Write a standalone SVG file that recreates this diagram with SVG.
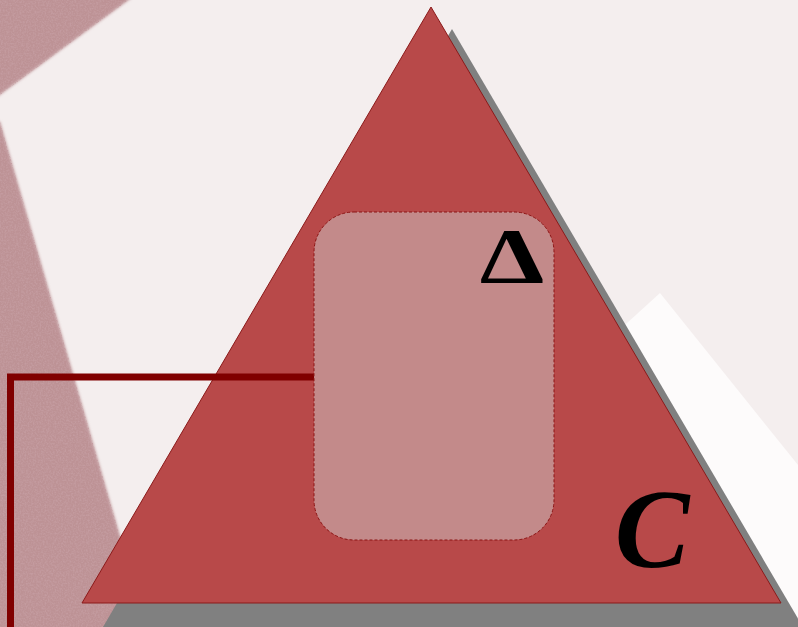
<svg xmlns="http://www.w3.org/2000/svg" width="798" height="627" viewBox="0 0 798 627">
  <defs>
    <filter id="noise" x="0" y="0" width="798" height="627" filterUnits="userSpaceOnUse">
      <feTurbulence type="fractalNoise" baseFrequency="0.6" numOctaves="2" seed="3" result="t"/>
      <feColorMatrix in="t" type="matrix" values="0 0 0 0 0.55  0 0 0 0 0.33  0 0 0 0 0.35  2.6 0 0 0 -1.0"/>
    </filter>
    <filter id="blur1" x="-10%" y="-10%" width="120%" height="120%"><feGaussianBlur stdDeviation="1.5"/></filter>
    <clipPath id="bandclip">
      <polygon points="-10,-10 142,-10 -10,102"/>
      <polygon points="-10,118 0,122 150,640 -10,640"/>
    </clipPath>
  </defs>
  <style>
    .band { fill: #bd9295; }
    .tri { fill: #b84949; stroke: #8b1a1a; stroke-width: 1; }
    .shadow { fill: #808080; }
    .inner { fill: #c38a8a; stroke: #8b1515; stroke-width: 1; stroke-dasharray: 3 2; }
    .conn { fill: none; stroke: #800000; stroke-width: 7; }
    .sym { font-family: "Liberation Serif", "DejaVu Serif", serif; fill: #000; font-weight: bold; }
  </style>
  <g id="background">
    <rect x="0" y="0" width="798" height="627" fill="#f4eeee"/>
    <g filter="url(#blur1)">
      <polygon class="band" points="-10,-10 142,-10 -10,102"/>
      <polygon class="band" points="-10,118 0,122 150,640 -10,640"/>
    </g>
    <g clip-path="url(#bandclip)">
      <rect x="0" y="0" width="798" height="627" filter="url(#noise)"/>
    </g>
    <polygon points="660,293 810,480 810,640 400,640 400,530" fill="#fdfbfb"/>
  </g>
  <g id="triangle">
    <polygon class="shadow" points="452,29 803,627 103,627"/>
    <polygon class="tri" points="431,7 781,603 82,603"/>
    <text class="sym" x="652" y="567" font-size="112" font-style="italic" text-anchor="middle">C</text>
  </g>
  <g id="connectors">
    <polyline class="conn" points="314,377 10.5,377 10.5,627"/>
  </g>
  <g id="box">
    <rect class="inner" x="314" y="212" width="240" height="328" rx="40" ry="40"/>
    <text class="sym" font-size="78" text-anchor="middle" transform="translate(512,282) scale(1.32,1)">Δ</text>
  </g>
</svg>
